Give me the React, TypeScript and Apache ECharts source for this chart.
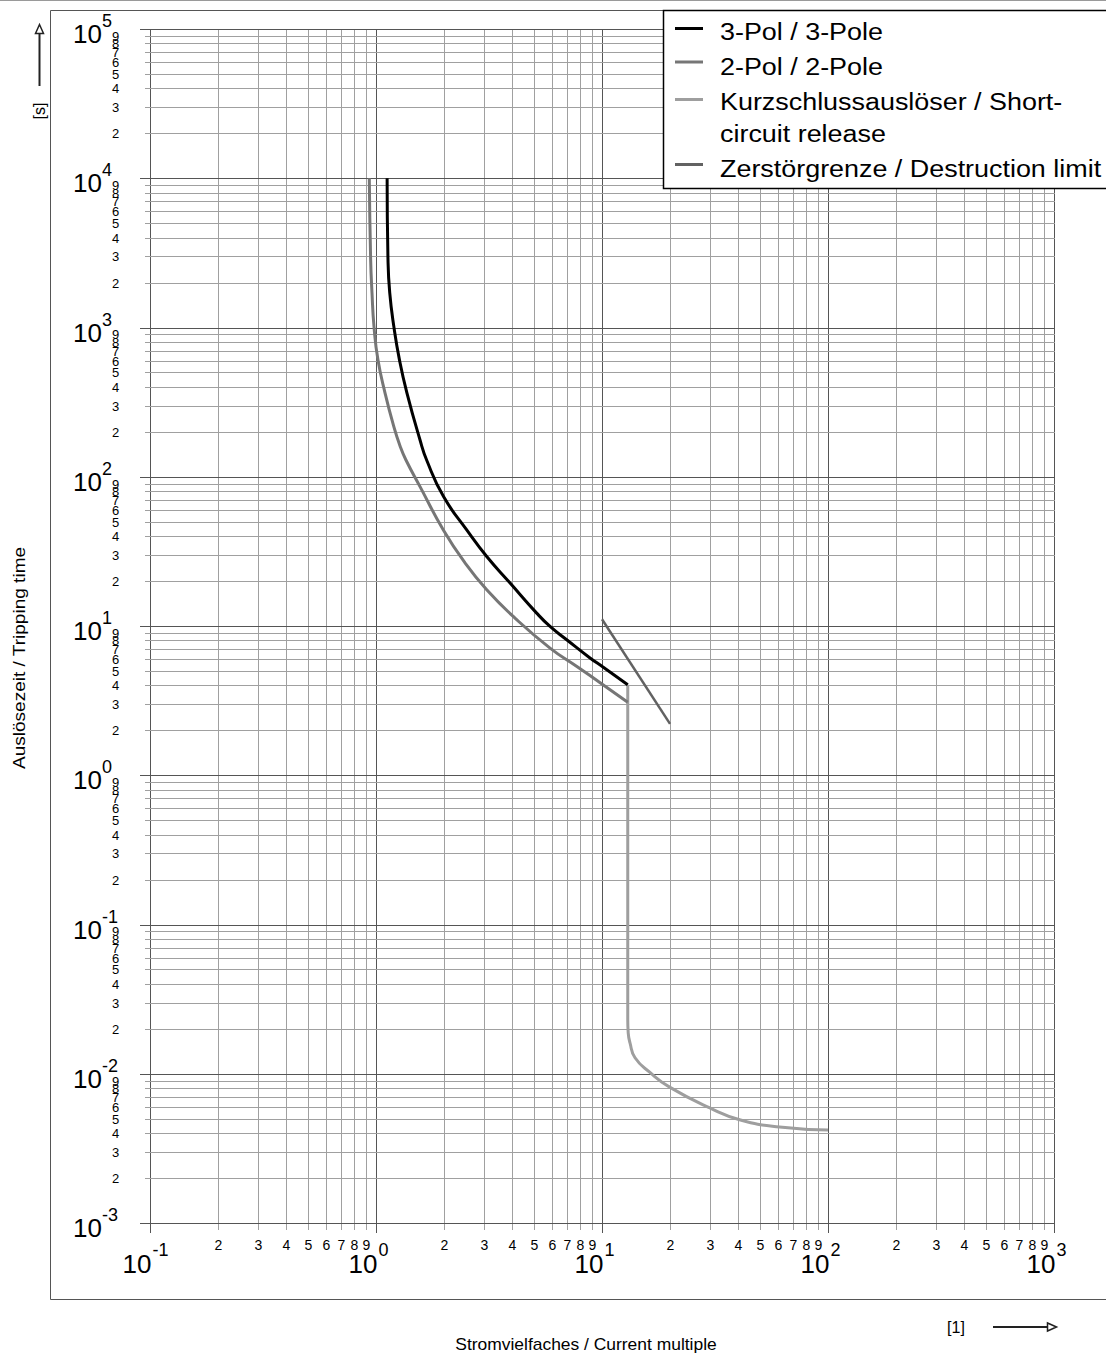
import React, { useEffect, useRef } from 'react';
import * as echarts from 'echarts';

// ---------- axis ranges & ticks ----------
const X_MIN = 0.1;
const X_MAX = 1000;
const Y_MIN = 0.001;
const Y_MAX = 100000;

const xDecadeExponents = [-1, 0, 1, 2, 3];
const yDecadeExponents = [-3, -2, -1, 0, 1, 2, 3, 4, 5];
const minorDigits = [2, 3, 4, 5, 6, 7, 8, 9];

// ---------- series values [current multiple, tripping time s] ----------
const threePole: number[][] = [
  [1.12, 10000], [1.13, 2840], [1.15, 1710], [1.2, 1010], [1.27, 607], [1.37, 365],
  [1.565, 177], [1.68, 128], [1.99, 73.6], [2.52, 44], [3.09, 29.2], [3.92, 19.4],
  [5.14, 12.2], [5.89, 9.93], [6.98, 8.09], [8.85, 6.11], [10.1, 5.31], [13, 4.04],
];
const twoPole: number[][] = [
  [0.934, 10000], [0.947, 2840], [0.96, 1710], [0.98, 1010], [1.02, 607], [1.096, 365],
  [1.2, 216], [1.281, 159], [1.355, 130], [1.566, 85.9], [1.986, 44], [2.48, 26.4],
  [3.09, 17.5], [4.12, 11.3], [5.89, 7.11], [7.8, 5.31], [10.1, 4.04], [13, 3.08],
];
const shortCircuit: number[][] = [
  [13, 4.04], [13, 0.023], [13.06, 0.0188], [13.3, 0.0161], [14, 0.0128], [16.3, 0.0102],
  [20, 0.0081], [30, 0.0059], [41, 0.0049], [61, 0.0044], [100, 0.0042],
];
const destructionLimit: number[][] = [[10, 11.1], [20, 2.21]];

// ---------- texts ----------
const seriesNames = [
  '3-Pol / 3-Pole',
  '2-Pol / 2-Pole',
  'Kurzschlussauslöser / Short-circuit release',
  'Zerstörgrenze / Destruction limit',
];
const legendLines = [
  ['3-Pol / 3-Pole'],
  ['2-Pol / 2-Pole'],
  ['Kurzschlussauslöser / Short-', 'circuit release'],
  ['Zerstörgrenze / Destruction limit'],
];
const xAxisTitle = 'Stromvielfaches / Current multiple';
const yAxisTitle = 'Auslösezeit / Tripping time';
const xUnit = '[1]';
const yUnit = '[s]';

// ---------- styles ----------
const FONT = 'Liberation Sans, Arial, Helvetica, sans-serif';
const MAJOR_COLOR = '#555555';
const MINOR_COLOR = '#a0a0a0';
const seriesColors = ['#000000', '#767676', '#9e9e9e', '#626262'];

function buildTicks(exps: number[]) {
  const out: { v: number; major: number; label: number }[] = [];
  exps.forEach((e, i) => {
    out.push({ v: Math.pow(10, e), major: 1, label: e });
    if (i < exps.length - 1) {
      minorDigits.forEach((k) => out.push({ v: k * Math.pow(10, e), major: 0, label: k }));
    }
  });
  return out;
}

const xTicks = buildTicks(xDecadeExponents);
const yTicks = buildTicks(yDecadeExponents);

function txt(x: number, y: number, text: string, size: number, align: string, extra: any = {}) {
  return {
    type: 'text',
    x,
    y,
    ...extra,
    style: {
      text,
      fill: '#000',
      fontSize: size,
      fontFamily: FONT,
      align,
      textAlign: align,
      verticalAlign: 'middle',
      textVerticalAlign: 'middle',
    },
  };
}

const renderXTick = (_params: any, api: any) => {
  const v = api.value(0);
  const major = api.value(2) === 1;
  const label = api.value(3);
  const pTop = api.coord([v, Y_MAX]);
  const pBot = api.coord([v, Y_MIN]);
  const x = Math.round(pBot[0]) + 0.5;
  const top = Math.round(pTop[1]);
  const bottom = Math.round(pBot[1]);
  const children: any[] = [
    {
      type: 'line',
      shape: { x1: x, y1: top, x2: x, y2: bottom + (major ? 10 : 7) },
      style: { stroke: major ? MAJOR_COLOR : MINOR_COLOR, lineWidth: 1 },
    },
  ];
  if (major) {
    children.push(txt(x + 1, bottom + 41, '10', 26, 'right'));
    children.push(txt(x + 2, bottom + 27, String(label), 18, 'left'));
  } else {
    children.push(txt(x, bottom + 22, String(label), 14, 'center'));
  }
  return { type: 'group', children };
};

const renderYTick = (_params: any, api: any) => {
  const v = api.value(1);
  const major = api.value(2) === 1;
  const label = api.value(3);
  const pL = api.coord([X_MIN, v]);
  const pR = api.coord([X_MAX, v]);
  const y = Math.round(pL[1]) + 0.5;
  const left = Math.round(pL[0]);
  const right = Math.round(pR[0]) + 1;
  const children: any[] = [
    {
      type: 'line',
      shape: { x1: left - (major ? 10 : 5), y1: y, x2: right, y2: y },
      style: { stroke: major ? MAJOR_COLOR : MINOR_COLOR, lineWidth: 1 },
    },
  ];
  if (major) {
    children.push(txt(left - 48, y + 4, '10', 26, 'right'));
    children.push(txt(left - 48, y - 9, String(label), 18, 'left'));
  } else {
    children.push(txt(left - 34.5, y, String(label), 13, 'center'));
  }
  return { type: 'group', children };
};

function buildGraphic() {
  const els: any[] = [];
  els.push({ type: 'line', shape: { x1: 0, y1: 0.5, x2: 1106, y2: 0.5 }, style: { stroke: '#9a9a9a', lineWidth: 1 } });
  els.push({
    type: 'rect',
    shape: { x: 50.5, y: 10.5, width: 1100, height: 1289 },
    style: { fill: 'none', stroke: '#555', lineWidth: 1 },
  });
  els.push({
    type: 'rect',
    shape: { x: 663.5, y: 10.5, width: 460, height: 178 },
    style: { fill: '#fff', stroke: '#000', lineWidth: 1.5 },
  });
  const lineYs = [28.5, 62, 99.5, 164.5];
  const textYs = [[31.7], [66.7], [101.7, 133.3], [168.3]];
  legendLines.forEach((lines, i) => {
    els.push({
      type: 'line',
      shape: { x1: 675, y1: lineYs[i], x2: 703, y2: lineYs[i] },
      style: { stroke: seriesColors[i], lineWidth: 3 },
    });
    lines.forEach((t, j) => {
      els.push(txt(720, textYs[i][j], t, 23, 'left', { scaleX: 1.17 }));
    });
  });
  els.push(txt(20, 658, yAxisTitle, 16, 'center', { rotation: Math.PI / 2, scaleX: 1.19 }));
  els.push(txt(39.5, 111, yUnit, 16, 'center', { rotation: Math.PI / 2 }));
  els.push(txt(586, 1345, xAxisTitle, 16, 'center', { scaleX: 1.09 }));
  els.push(txt(956, 1327.5, xUnit, 16, 'center'));
  els.push({ type: 'line', shape: { x1: 39.5, y1: 86, x2: 39.5, y2: 33 }, style: { stroke: '#222', lineWidth: 2 } });
  els.push({
    type: 'polygon',
    shape: { points: [[39.5, 24.5], [35.5, 33.5], [43.5, 33.5]] },
    style: { fill: '#fff', stroke: '#222', lineWidth: 1.5 },
  });
  els.push({ type: 'line', shape: { x1: 993, y1: 1327, x2: 1047, y2: 1327 }, style: { stroke: '#222', lineWidth: 2 } });
  els.push({
    type: 'polygon',
    shape: { points: [[1056.5, 1327], [1047.5, 1323], [1047.5, 1331]] },
    style: { fill: '#fff', stroke: '#222', lineWidth: 1.5 },
  });
  return els.map((e) => ({ z: 100, ...e }));
}

export default function App() {
  const ref = useRef<HTMLDivElement>(null);
  useEffect(() => {
    document.body.style.margin = '0';
    const chart = echarts.init(ref.current!, null, { renderer: 'svg' });
    const lineSeries = [shortCircuit, twoPole, threePole, destructionLimit];
    const order = [2, 1, 0, 3];
    chart.setOption({
      animation: false,
      backgroundColor: '#fff',
      grid: { left: 150, right: 52, top: 29, bottom: 131, containLabel: false },
      xAxis: {
        type: 'log',
        logBase: 10,
        min: X_MIN,
        max: X_MAX,
        axisLine: { show: false },
        axisTick: { show: false },
        axisLabel: { show: false },
        splitLine: { show: false },
      },
      yAxis: {
        type: 'log',
        logBase: 10,
        min: Y_MIN,
        max: Y_MAX,
        axisLine: { show: false },
        axisTick: { show: false },
        axisLabel: { show: false },
        splitLine: { show: false },
      },
      series: [
        {
          type: 'custom',
          name: 'xgrid',
          silent: true,
          z: 1,
          renderItem: renderXTick,
          encode: { x: 0, y: 1 },
          data: xTicks.map((t) => [t.v, Y_MIN, t.major, t.label]),
        },
        {
          type: 'custom',
          name: 'ygrid',
          silent: true,
          z: 1,
          renderItem: renderYTick,
          encode: { x: 0, y: 1 },
          data: yTicks.map((t) => [X_MIN, t.v, t.major, t.label]),
        },
        ...lineSeries.map((d, i) => ({
          type: 'line',
          name: seriesNames[order[i]],
          data: d,
          showSymbol: false,
          symbol: 'none',
          silent: true,
          smooth: order[i] === 3 ? false : 0.5,
          z: 5,
          lineStyle: { color: seriesColors[order[i]], width: order[i] === 3 ? 2.5 : 3, join: 'round' },
        })),
      ],
      graphic: buildGraphic(),
    });
    return () => chart.dispose();
  }, []);
  return <div ref={ref} style={{ width: 1106, height: 1354 }} />;
}
